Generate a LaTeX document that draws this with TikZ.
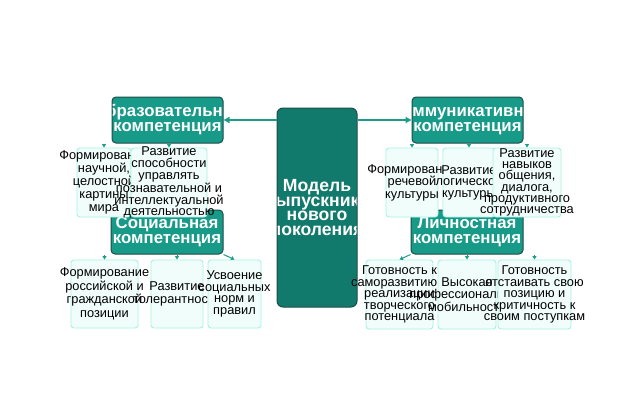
\documentclass[tikz,border=0pt]{standalone}
\usepackage{fontspec}
\setmainfont{Liberation Sans}
\usetikzlibrary{arrows.meta}
\definecolor{deepteal}{HTML}{127A6C}
\definecolor{headteal}{HTML}{179A88}
\definecolor{linkteal}{HTML}{1D9C8A}
\definecolor{rimdark}{HTML}{1E4D47}
\definecolor{leaffill}{HTML}{F1FDFB}
\definecolor{leafrim}{HTML}{A6F2E4}
\tikzset{
  leaf/.style={draw=leafrim, fill=leaffill, rounded corners=3pt, line width=0.9pt, inner sep=0pt},
  leaftext/.style={align=center, inner sep=0pt},
  head/.style={draw=rimdark, fill=headteal, rounded corners=4pt, line width=1pt, inner sep=0pt},
  headtext/.style={align=center, inner sep=0pt, text=white, font=\fontsize{16.8}{15}\selectfont\bfseries},
  link/.style={draw=linkteal, line width=1.4pt, -{Triangle[length=6pt,width=6pt]}},
  tick/.style={draw=linkteal, line width=1pt, -{Triangle[length=3.5pt,width=4pt]}}
}
% [line skip], name, x, y, width, height, text
\newcommand{\leafbox}[7][12.5]{
  \node[leaf, minimum width=#5, minimum height=#6] (#2) at (#3,#4) {};
  \node[leaftext, font=\fontsize{12.8}{#1}\selectfont] (#2-t) at (#2.center) {#7};
}
% name, x, y, width, height, text (clipped to the box)
\newcommand{\headbox}[6]{
  \node[head, minimum width=#4, minimum height=#5, path picture={
    \node[headtext] at (path picture bounding box.center) {#6};}] (#1) at (#2,#3) {};
}

\begin{document}
\begin{tikzpicture}[x=1pt, y=-1pt]
  \useasboundingbox[fill=white] (0,0) rectangle (634,415);
  \node[head, fill=deepteal, rounded corners=6pt, minimum width=80, minimum height=199,
    path picture={\node[headtext, font=\fontsize{17.6}{14.5}\selectfont\bfseries]
      at (path picture bounding box.center) {Модель\\выпускника\\нового\\поколения};}] (model) at (317,207.5) {};
  \headbox{edu}{167.5}{120}{111}{46}{Образовательная\\компетенция}
  \headbox{comm}{467.5}{120}{111}{46}{Коммуникативная\\компетенция}
  \headbox{soc}{167}{232}{112}{44}{Социальная\\компетенция}
  \headbox{pers}{467}{232}{112}{44}{Личностная\\компетенция}

  % upper left
  \leafbox[13]{e1}{104}{182.5}{54}{69}{Формирование\\научной,\\целостной\\картины\\мира}
  \leafbox[11.8]{e2}{169}{182.5}{76}{69}{Развитие\\способности\\управлять\\познавательной и\\интеллектуальной\\деятельностью}
  % upper right
  \leafbox{c1}{412}{182.5}{52}{69}{Формирование\\речевой\\культуры}
  \leafbox[11.5]{c2}{469}{182.5}{52}{69}{Развитие\\логической\\культуры}
  \leafbox[11.3]{c3}{527}{182.5}{68}{69}{Развитие\\навыков\\общения,\\диалога,\\продуктивного\\сотрудничества}
  % lower left
  \leafbox[13.5]{s1}{104.5}{294}{67}{68}{Формирование\\российской и\\гражданской\\позиции}
  \leafbox{s2}{177}{294}{52}{68}{Развитие\\толерантности}
  \leafbox[11.5]{s3}{234.5}{294}{53}{68}{Усвоение\\социальных\\норм и\\правил}
  % lower right
  \leafbox[11.5]{p1}{399.5}{294.5}{67}{69}{Готовность к\\саморазвитию и\\реализации\\творческого\\потенциала}
  \leafbox{p2}{467}{294.5}{58}{69}{Высокая\\профессиональная\\мобильность}
  \leafbox[11.5]{p3}{534.5}{294.5}{73}{69}{Готовность\\отстаивать свою\\позицию и\\критичность к\\своим поступкам}

  \draw[link] (model.west |- edu.east) -- (edu.east);
  \draw[link] (model.east |- comm.west) -- (comm.west);
  \foreach \c/\h in {e1/edu, e2/edu, c1/comm, c2/comm, c3/comm, s1/soc, s2/soc, p2/pers, p3/pers}
    \draw[tick] (\c.north |- \h.south) -- (\c.north);
  \draw[tick] (soc.south east) -- (s3.north);
  \draw[tick] (pers.south west) -- (p1.north);
\end{tikzpicture}
\end{document}
